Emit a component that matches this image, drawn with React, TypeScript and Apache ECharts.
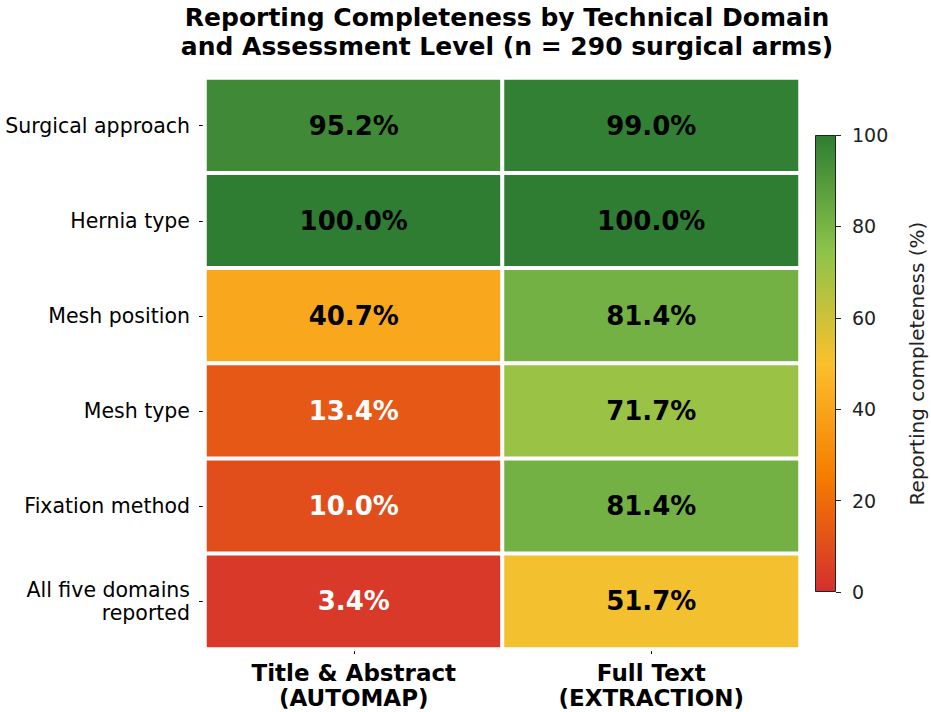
import React, { useEffect, useRef } from "react";
import * as echarts from "echarts";

const domains = [
  "Surgical approach",
  "Hernia type",
  "Mesh position",
  "Mesh type",
  "Fixation method",
  "All five domains\nreported",
];
const levels = ["Title & Abstract\n(AUTOMAP)", "Full Text\n(EXTRACTION)"];
const titleAbstract = [95.2, 100.0, 40.7, 13.4, 10.0, 3.4];
const fullText = [99.0, 100.0, 81.4, 71.7, 81.4, 51.7];
const colorbarTicks = [0, 20, 40, 60, 80, 100];
const cmap = ["#d32f2f", "#f57c00", "#fbc02d", "#8bc34a", "#2e7d32"];

const FONT = "DejaVu Sans";

export default function App() {
  const ref = useRef<HTMLDivElement>(null);
  useEffect(() => {
    document.body.style.margin = "0";
    if (!ref.current) return;
    const chart = echarts.init(ref.current, null, { renderer: "svg" });
    const cols = [titleAbstract, fullText];
    const data: any[] = [];
    cols.forEach((vals, xi) => {
      vals.forEach((v, yi) => {
        data.push({
          value: [xi, yi, v],
          label: { color: v < 20 ? "#ffffff" : "#000000" },
        });
      });
    });
    chart.setOption({
      animation: false,
      backgroundColor: "#ffffff",
      textStyle: { fontFamily: FONT },
      title: {
        text: "Reporting Completeness by Technical Domain\nand Assessment Level (n = 290 surgical arms)",
        left: 502,
        textAlign: "center",
        top: -2,
        textStyle: {
          fontFamily: FONT,
          fontWeight: "bold",
          fontSize: 25,
          lineHeight: 29,
          color: "#000",
        },
      },
      grid: [
        { left: 205, top: 78, width: 595, height: 571, outerBoundsMode: "none", containLabel: false },
        { left: 815, top: 135, width: 21, height: 457, outerBoundsMode: "none", containLabel: false },
      ],
      xAxis: [
        {
          type: "category",
          gridIndex: 0,
          data: levels,
          position: "bottom",
          axisLine: { show: false },
          axisTick: { show: true, alignWithLabel: true, length: 5, lineStyle: { color: "#000" } },
          splitLine: { show: false },
          axisLabel: {
            fontFamily: FONT,
            fontWeight: "bold",
            fontSize: 23,
            lineHeight: 25,
            color: "#000",
            margin: 11,
          },
        },
        {
          type: "category",
          gridIndex: 1,
          data: [""],
          show: false,
        },
      ],
      yAxis: [
        {
          type: "category",
          gridIndex: 0,
          data: domains,
          inverse: true,
          axisLine: { show: false },
          axisTick: { show: true, alignWithLabel: true, length: 6, lineStyle: { color: "#000" } },
          splitLine: { show: false },
          axisLabel: {
            fontFamily: FONT,
            fontSize: 20.5,
            lineHeight: 23,
            color: "#000",
            margin: 15,
            align: "right",
          },
        },
        {
          type: "value",
          gridIndex: 1,
          position: "right",
          min: 0,
          max: 100,
          interval: 20,
          axisLine: { show: false },
          axisTick: { show: true, length: 5, lineStyle: { color: "#222" } },
          splitLine: { show: false },
          axisLabel: { fontFamily: FONT, fontSize: 19, color: "#222", margin: 16 },
          name: "Reporting completeness (%)",
          nameLocation: "middle",
          nameRotate: 90,
          nameGap: 71,
          nameTextStyle: { fontFamily: FONT, fontSize: 20, color: "#222" },
        },
      ],
      visualMap: {
        show: false,
        type: "continuous",
        min: 0,
        max: 100,
        dimension: 2,
        seriesIndex: 0,
        inRange: { color: cmap },
      },
      series: [
        {
          type: "heatmap",
          xAxisIndex: 0,
          yAxisIndex: 0,
          data,
          itemStyle: { borderColor: "#ffffff", borderWidth: 4 },
          label: {
            show: true,
            fontFamily: FONT,
            fontWeight: "bold",
            fontSize: 26,
            formatter: (p: any) => p.value[2].toFixed(1) + "%",
          },
          emphasis: { disabled: true },
        },
        {
          type: "bar",
          xAxisIndex: 1,
          yAxisIndex: 1,
          data: [colorbarTicks[colorbarTicks.length - 1]],
          barWidth: "100%",
          silent: true,
          itemStyle: {
            borderColor: "#222",
            borderWidth: 1,
            color: {
              type: "linear",
              x: 0,
              y: 1,
              x2: 0,
              y2: 0,
              colorStops: cmap.map((c, i) => ({ offset: i / (cmap.length - 1), color: c })),
            },
          },
        },
      ],
    });
    return () => chart.dispose();
  }, []);
  return <div ref={ref} style={{ width: 931, height: 712 }} />;
}
